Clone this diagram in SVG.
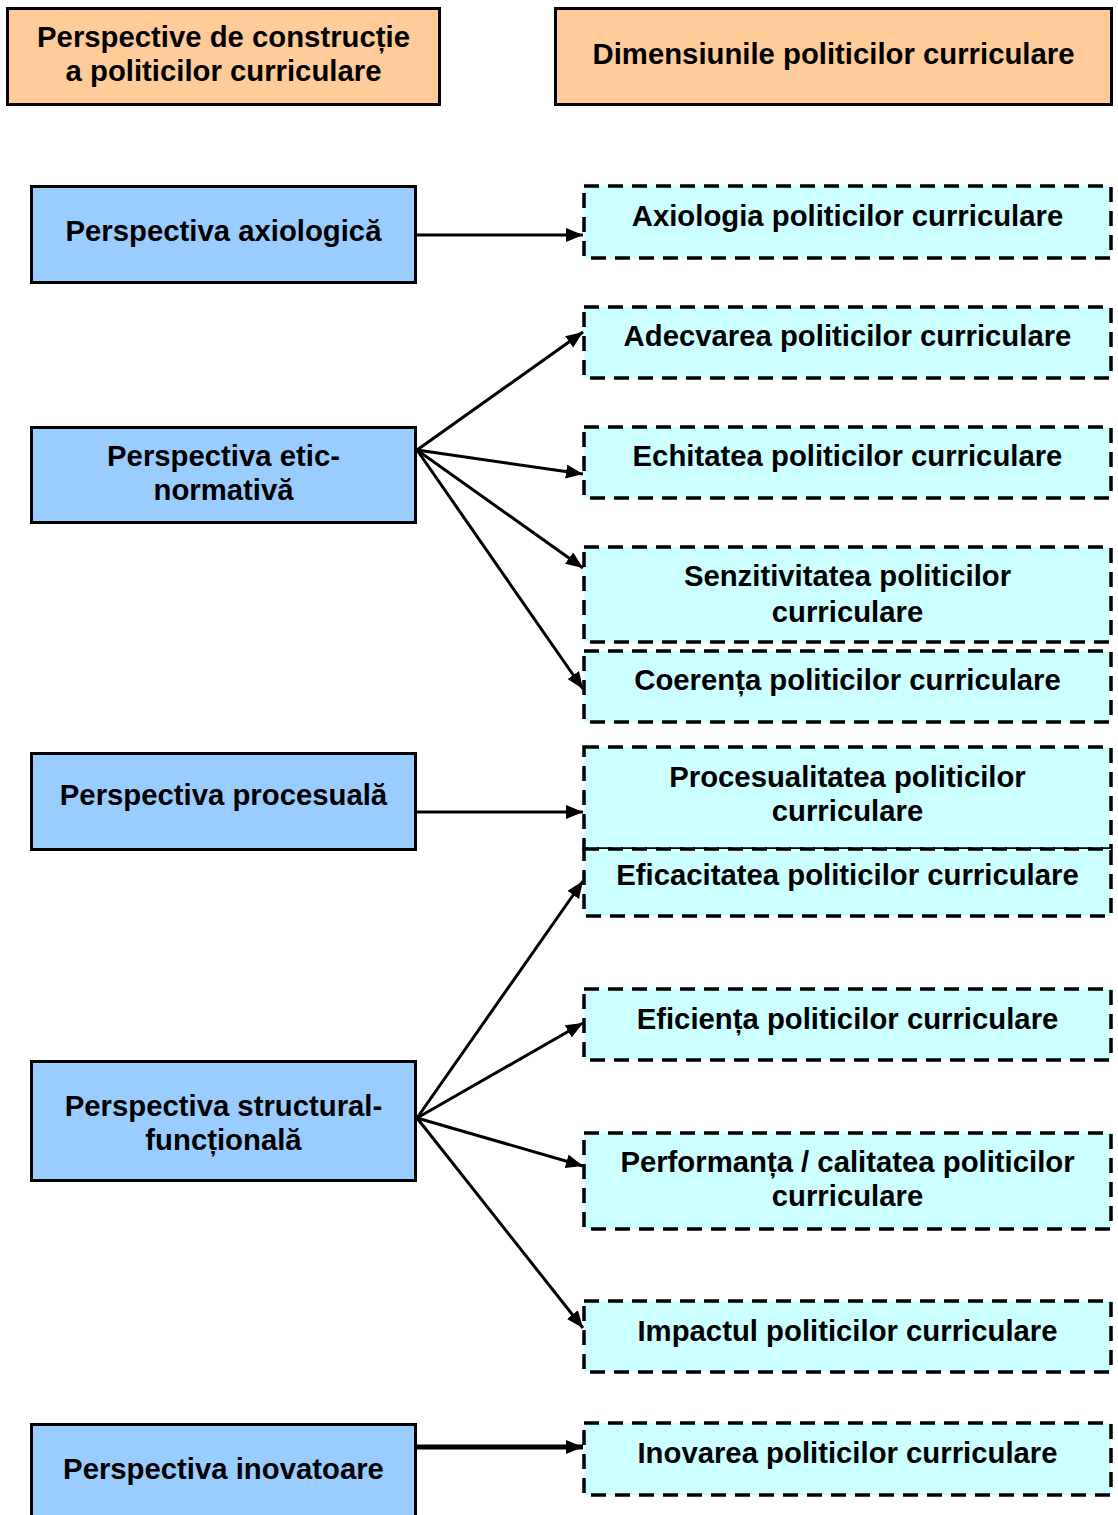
<svg xmlns="http://www.w3.org/2000/svg" width="1118" height="1515" viewBox="0 0 1118 1515">
<defs>
<style>
.hdr{fill:#FFCC99;stroke:#000;stroke-width:3}
.persp{fill:#99CCFF;stroke:#000;stroke-width:3}
.dim{fill:#CCFFFF;stroke:#000;stroke-width:3.5;stroke-dasharray:15 9}
text{font-family:"Liberation Sans",Arial,Helvetica,sans-serif;font-weight:bold;font-size:29.3px;fill:#000;text-anchor:middle}
.conn line{stroke:#000;stroke-width:3;marker-end:url(#ah)}
</style>
<marker id="ah" markerUnits="userSpaceOnUse" markerWidth="18" markerHeight="16" refX="17" refY="7" orient="auto">
<path d="M0,0 L17,7 L0,14 Z" fill="#000"/>
</marker>
</defs>
<rect width="1118" height="1515" fill="#fff"/>

<g id="header-left">
<rect class="hdr" x="7.5" y="8.5" width="432" height="96"/>
<text x="223.5" y="47">Perspective de construcție</text>
<text x="223.5" y="81">a politicilor curriculare</text>
</g>
<g id="header-right">
<rect class="hdr" x="555.5" y="8.5" width="556" height="96"/>
<text x="833.5" y="64">Dimensiunile politicilor curriculare</text>
</g>

<g id="p-axiologica">
<rect class="persp" x="31.5" y="186.5" width="384" height="96"/>
<text x="223.5" y="241">Perspectiva axiologică</text>
</g>
<g id="p-etic">
<rect class="persp" x="31.5" y="427.5" width="384" height="95"/>
<text x="223.5" y="466">Perspectiva etic-</text>
<text x="223.5" y="500">normativă</text>
</g>
<g id="p-procesuala">
<rect class="persp" x="31.5" y="753.5" width="384" height="96"/>
<text x="223.5" y="805">Perspectiva procesuală</text>
</g>
<g id="p-structural">
<rect class="persp" x="31.5" y="1061.5" width="384" height="119"/>
<text x="223.5" y="1116">Perspectiva structural-</text>
<text x="223.5" y="1150">funcțională</text>
</g>
<g id="p-inovatoare">
<rect class="persp" x="31.5" y="1424.5" width="384" height="100"/>
<text x="223.5" y="1479">Perspectiva inovatoare</text>
</g>

<g id="d-axiologia">
<rect class="dim" x="584" y="186" width="527" height="72"/>
<text x="847.5" y="226">Axiologia politicilor curriculare</text>
</g>
<g id="d-adecvarea">
<rect class="dim" x="584" y="307" width="527" height="71"/>
<text x="847.5" y="346">Adecvarea politicilor curriculare</text>
</g>
<g id="d-echitatea">
<rect class="dim" x="584" y="427" width="527" height="71"/>
<text x="847.5" y="466">Echitatea politicilor curriculare</text>
</g>
<g id="d-senzitivitatea">
<rect class="dim" x="584" y="547" width="527" height="95"/>
<text x="847.5" y="586">Senzitivitatea politicilor</text>
<text x="847.5" y="622">curriculare</text>
</g>
<g id="d-coerenta">
<rect class="dim" x="584" y="651" width="527" height="71"/>
<text x="847.5" y="690">Coerența politicilor curriculare</text>
</g>
<g id="d-procesualitatea">
<rect class="dim" x="584" y="747" width="527" height="102"/>
<text x="847.5" y="787">Procesualitatea politicilor</text>
<text x="847.5" y="821">curriculare</text>
</g>
<g id="d-eficacitatea">
<rect class="dim" x="584" y="849" width="527" height="67"/>
<text x="847.5" y="885">Eficacitatea politicilor curriculare</text>
</g>
<g id="d-eficienta">
<rect class="dim" x="584" y="989" width="527" height="71"/>
<text x="847.5" y="1029">Eficiența politicilor curriculare</text>
</g>
<g id="d-performanta">
<rect class="dim" x="584" y="1133" width="527" height="96"/>
<text x="847.5" y="1172">Performanța / calitatea politicilor</text>
<text x="847.5" y="1206">curriculare</text>
</g>
<g id="d-impactul">
<rect class="dim" x="584" y="1301" width="527" height="71"/>
<text x="847.5" y="1341">Impactul politicilor curriculare</text>
</g>
<g id="d-inovarea">
<rect class="dim" x="584" y="1423" width="527" height="72"/>
<text x="847.5" y="1463">Inovarea politicilor curriculare</text>
</g>

<g id="connectors" class="conn">
<line x1="417" y1="235" x2="583" y2="235"/>
<line x1="417" y1="450" x2="583" y2="332"/>
<line x1="417" y1="450" x2="583" y2="474"/>
<line x1="417" y1="450" x2="583" y2="568"/>
<line x1="417" y1="450" x2="583" y2="689"/>
<line x1="417" y1="812" x2="583" y2="812"/>
<line x1="417" y1="1118" x2="583" y2="881"/>
<line x1="417" y1="1118" x2="583" y2="1023"/>
<line x1="417" y1="1118" x2="583" y2="1166"/>
<line x1="417" y1="1118" x2="583" y2="1328"/>
<line x1="417" y1="1447" x2="583" y2="1447" style="stroke-width:5"/>
</g>
</svg>
